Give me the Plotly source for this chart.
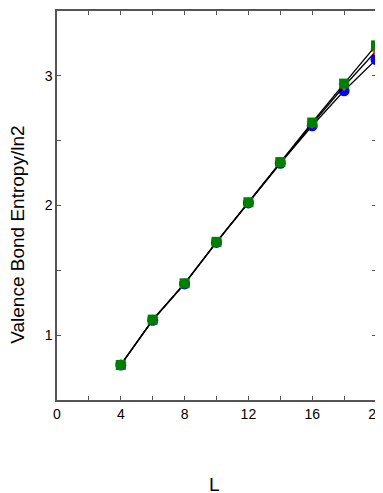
import plotly.graph_objects as go

L_values = [4, 6, 8, 10, 12, 14, 16, 18, 20]
blue_series = [0.77, 1.115, 1.395, 1.715, 2.02, 2.325, 2.615, 2.885, 3.125]
red_series = [0.77, 1.118, 1.398, 1.718, 2.022, 2.33, 2.63, 2.92, 3.19]
green_series = [0.77, 1.12, 1.40, 1.72, 2.025, 2.335, 2.64, 2.94, 3.235]
x_tick_labels = [0, 4, 8, 12, 16, 20]
y_tick_labels = [1, 2, 3]

fig = go.Figure()
fig.add_trace(go.Scatter(x=L_values, y=blue_series, mode="lines+markers",
                         line=dict(color="black", width=1.3),
                         marker=dict(symbol="circle", size=11, color="#0000ff"),
                         cliponaxis=False, showlegend=False))
fig.add_trace(go.Scatter(x=L_values, y=red_series, mode="lines+markers",
                         line=dict(color="black", width=1.3),
                         marker=dict(symbol="triangle-down", size=10, color="#e8403a"),
                         cliponaxis=False, showlegend=False))
fig.add_trace(go.Scatter(x=L_values, y=green_series, mode="lines+markers",
                         line=dict(color="black", width=1.3),
                         marker=dict(symbol="square", size=10, color="#007f00"),
                         cliponaxis=False, showlegend=False))

axis_common = dict(showgrid=False, zeroline=False, showline=True, mirror="ticks",
                   linecolor="#555555", linewidth=1.5, ticks="inside", ticklen=4,
                   tickcolor="#555555", tickfont=dict(family="Liberation Sans, Arial", size=14, color="black"))

fig.update_xaxes(range=[0, 20], tickvals=x_tick_labels,
                 minor=dict(dtick=2, tick0=0, ticks="inside", ticklen=4, tickcolor="#555555"),
                 **axis_common)
fig.update_yaxes(range=[0.5, 3.5], tickvals=y_tick_labels,
                 minor=dict(dtick=0.5, tick0=0, ticks="inside", ticklen=4, tickcolor="#555555"),
                 **axis_common)

fig.update_layout(
    width=383, height=493,
    margin=dict(l=49, r=15, t=1, b=101),
    plot_bgcolor="white", paper_bgcolor="white",
    font=dict(family="Liberation Sans, Arial", color="black"),
    annotations=[
        dict(text="L", xref="paper", yref="paper", x=0.495, y=-0.218,
             yanchor="middle", xanchor="center", showarrow=False,
             font=dict(size=19, color="black")),
        dict(text="Valence Bond Entropy/ln2", xref="paper", yref="paper",
             x=-0.122, y=0.425, textangle=-90, xanchor="center", yanchor="middle",
             showarrow=False, font=dict(size=19, color="black")),
    ],
)

fig.write_html("out.html")
